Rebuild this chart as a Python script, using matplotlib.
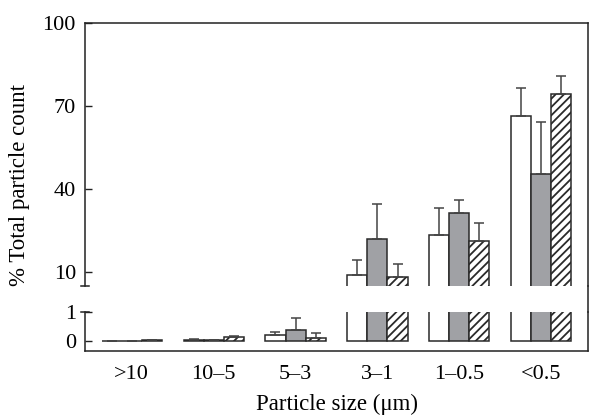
import numpy as np
import matplotlib
matplotlib.use("Agg")
import matplotlib.pyplot as plt
from matplotlib.lines import Line2D

plt.rcParams['font.family'] = ['Liberation Serif', 'DejaVu Serif']
plt.rcParams['hatch.linewidth'] = 1.3

sizes = [">10", "10–5", "5–3", "3–1", "1–0.5", "<0.5"]

# three series per size class (white, gray, hatched), upper error only
white = [0.02, 0.05, 0.23, 9.0, 23.5, 66.4]
white_err = [0.0, 0.02, 0.10, 5.4, 9.7, 10.1]
gray = [0.02, 0.03, 0.37, 22.0, 31.4, 45.5]
gray_err = [0.0, 0.01, 0.43, 12.7, 4.7, 18.8]
hatched = [0.03, 0.15, 0.13, 8.3, 21.3, 74.4]
hatched_err = [0.0, 0.03, 0.14, 4.7, 6.5, 6.5]

W, H = 590, 415
fig = plt.figure(figsize=(W / 100, H / 100), dpi=100)

left, right = 85 / W, 588 / W
ax_top = fig.add_axes([left, 1 - 286 / H, right - left, (286 - 23) / H])
ax_bot = fig.add_axes([left, 1 - 351 / H, right - left, (351 - 312) / H])

x = np.arange(len(sizes))
bw = 0.245
edge = "#2a2a2a"
fs = 16
for ax in (ax_top, ax_bot):
    kw = dict(width=bw, edgecolor=edge, linewidth=1.1, capsize=3.6,
              error_kw=dict(ecolor="#444444", elinewidth=1.1, capthick=1.1))
    ax.bar(x - bw, white, color="white", yerr=[np.zeros(6), white_err], **kw)
    ax.bar(x, gray, color="#a0a1a5", yerr=[np.zeros(6), gray_err], **kw)
    ax.bar(x + bw, hatched, color="white", hatch="////",
           yerr=[np.zeros(6), hatched_err], **kw)
    ax.set_xlim(-0.57, 5.57)
    ax.tick_params(axis="y", direction="in", length=5, width=1, pad=6.5,
                   labelsize=fs, color="#222222")
    for s in ax.spines.values():
        s.set_linewidth(1.1)
        s.set_color("#222222")

ax_top.set_ylim(5, 100)
ax_top.set_yticks([10, 40, 70, 100])
ax_top.spines["bottom"].set_visible(False)
ax_top.set_xticks([])

ax_bot.set_ylim(-0.33, 1)
ax_bot.set_yticks([0, 1])
ax_bot.spines["top"].set_visible(False)
ax_bot.set_xticks(x)
ax_bot.set_xticklabels(sizes)
ax_bot.tick_params(axis="x", length=0, pad=10, labelsize=fs)
ax_bot.set_xlabel("Particle size (μm)", fontsize=16.5, labelpad=7)

# small end marks on the broken left spine
ax_top.plot([-0.008, 0.008], [0, 0], transform=ax_top.transAxes,
            color="#222222", lw=1.1, clip_on=False)
ax_bot.plot([-0.008, 0.008], [1, 1], transform=ax_bot.transAxes,
            color="#222222", lw=1.1, clip_on=False)

# right border runs through the gap
fig.add_artist(Line2D([right, right], [1 - 312 / H, 1 - 286 / H],
                      color="#222222", lw=1.1))

fig.text(20 / W, 1 - 185 / H, "% Total particle count", rotation=90,
         ha="center", va="center", fontsize=16.5)

fig.savefig("out.png", dpi=100)
